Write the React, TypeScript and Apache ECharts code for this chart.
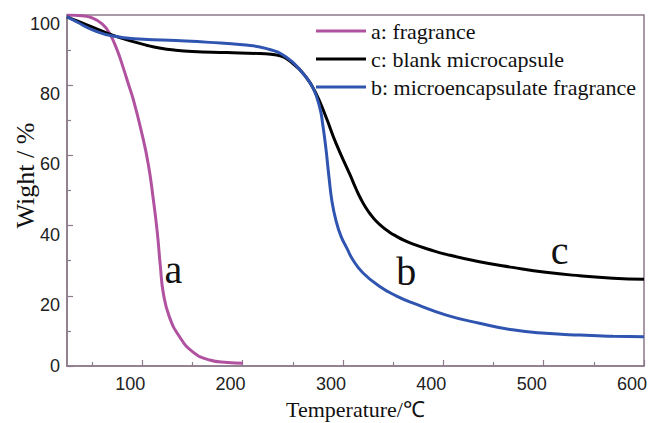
import React, { useEffect, useRef } from "react";
import * as echarts from "echarts";

// Curve a: fragrance
const aTemp = [25, 40, 50, 60, 67, 75, 81, 86, 91, 99, 106, 111, 115, 118, 121, 127, 137, 150, 167, 185, 200];
const aWeight = [100, 99.8, 99.2, 97.5, 95, 90, 85, 80.5, 76, 67, 57.5, 47.5, 38, 28.5, 20.7, 14, 8.4, 4.1, 1.7, 1.0, 0.8];

// Curve c: blank microcapsule
const cTemp = [25, 35, 51, 71, 91, 104, 117, 132, 150, 184, 217, 234, 250, 263, 273, 283, 293, 307, 313, 318, 323, 328, 333, 339, 346, 353, 361, 370, 386, 403, 436, 469, 502, 536, 569, 600];
const cWeight = [99.5, 98.3, 96.5, 94.2, 92.4, 91.4, 90.6, 90.0, 89.6, 89.3, 89.0, 88.6, 86.2, 82.4, 77.7, 71.0, 63.5, 54.5, 50.5, 47.5, 45.0, 43.0, 41.3, 39.7, 38.2, 37.0, 35.8, 34.7, 33.2, 31.8, 29.7, 28.1, 26.7, 25.7, 25.0, 24.7];

// Curve b: microencapsulate fragrance
const bTemp = [25, 35, 51, 71, 101, 134, 167, 200, 223, 243, 260, 270, 277, 280, 283, 286, 289, 293, 298, 304, 310, 320, 337, 353, 370, 403, 436, 469, 502, 536, 569, 600];
const bWeight = [99.5, 98, 95.7, 94.0, 93.1, 92.7, 92.2, 91.5, 90.5, 88.1, 83.4, 79.3, 73.5, 68.5, 62, 54, 47, 41.5, 37, 33.5, 30.2, 26.5, 22.6, 20, 17.9, 14.5, 12.2, 10.3, 9.3, 8.8, 8.5, 8.3];

const xMajorTicks = [100, 200, 300, 400, 500, 600];
const xMinorTicks = [50, 150, 250, 350, 450, 550];
const yUpperLabels = [20, 40, 60, 80, 100];
const yZeroLabel = [0];

const seriesNames = ["a: fragrance", "c: blank microcapsule", "b: microencapsulate fragrance"];
const curveLabels = [
  { text: "a", coord: [131, 27.5] },
  { text: "b", coord: [363, 26.9] },
  { text: "c", coord: [516, 33] },
];

const SERIF = "Liberation Serif";
const SANS = "Liberation Sans";
const AXIS_COLOR = "#8c7b8a";

const zip = (xs: number[], ys: number[]) => xs.map((x, i) => [x, ys[i]]);

export default function App() {
  const ref = useRef<HTMLDivElement>(null);
  useEffect(() => {
    if (!ref.current) return;
    const chart = echarts.init(ref.current, undefined, { renderer: "svg" });
    const labelFor = (name: string) => curveLabels.find((l) => name.startsWith(l.text + ":"))!;
    const colors: Record<string, string> = {
      "a: fragrance": "#b0529f",
      "c: blank microcapsule": "#000000",
      "b: microencapsulate fragrance": "#2f55b0",
    };
    const dataFor: Record<string, number[][]> = {
      "a: fragrance": zip(aTemp, aWeight),
      "c: blank microcapsule": zip(cTemp, cWeight),
      "b: microencapsulate fragrance": zip(bTemp, bWeight),
    };
    const xMin = 25;
    const xMax = 600;
    const labelShift = 12; // labels sit slightly left of their ticks
    const labelStyle = { fontFamily: SANS, fontSize: 18, color: "#222" };
    chart.setOption({
      animation: false,
      backgroundColor: "#ffffff",
      grid: {
        left: 67,
        top: 15,
        right: 5,
        bottom: 57,
        containLabel: false,
        outerBoundsMode: "none",
        show: true,
        borderColor: AXIS_COLOR,
        borderWidth: 1.5,
        backgroundColor: "transparent",
      },
      legend: {
        orient: "vertical",
        left: 311,
        top: 15,
        itemWidth: 50,
        itemHeight: 3,
        itemGap: 6,
        icon: "rect",
        data: seriesNames,
        textStyle: { fontFamily: SERIF, fontSize: 22, color: "#111" },
      },
      xAxis: [
        {
          type: "value",
          min: xMin,
          max: xMax,
          name: "Temperature/℃",
          nameLocation: "middle",
          nameGap: 32,
          nameMoveOverlap: false,
          nameTextStyle: { fontFamily: SERIF, fontSize: 22, color: "#111" },
          axisLine: { show: true, lineStyle: { color: AXIS_COLOR, width: 1.5 } },
          axisTick: { show: true, inside: true, length: 6, customValues: xMajorTicks, lineStyle: { color: AXIS_COLOR, width: 1.2 } },
          axisLabel: { show: false },
          splitLine: { show: false },
        },
        {
          type: "value",
          min: xMin,
          max: xMax,
          position: "bottom",
          axisLine: { show: false },
          axisTick: { show: true, inside: true, length: 4, customValues: xMinorTicks, lineStyle: { color: AXIS_COLOR, width: 1.2 } },
          axisLabel: { show: false },
          splitLine: { show: false },
        },
        {
          type: "value",
          min: xMin + labelShift / 1.004,
          max: xMax + labelShift / 1.004,
          position: "bottom",
          axisLine: { show: false },
          axisTick: { show: false },
          axisLabel: { customValues: xMajorTicks, margin: 9, ...labelStyle },
          splitLine: { show: false },
        },
      ],
      yAxis: [
        {
          type: "value",
          min: 0,
          max: 100,
          interval: 20,
          position: "left",
          name: "Wight / %",
          nameLocation: "middle",
          nameGap: 29,
          nameMoveOverlap: false,
          nameTextStyle: { fontFamily: SERIF, fontSize: 26, color: "#111", padding: [0, 0, 0, 30] },
          axisLine: { show: true, lineStyle: { color: AXIS_COLOR, width: 1.5 } },
          axisTick: { show: true, inside: true, length: 6, lineStyle: { color: AXIS_COLOR, width: 1.2 } },
          minorTick: { show: true, splitNumber: 2, length: 4, lineStyle: { color: AXIS_COLOR, width: 1.2 } },
          axisLabel: { customValues: yUpperLabels, margin: 7, verticalAlign: "top", ...labelStyle },
          splitLine: { show: false },
        },
        {
          type: "value",
          min: 0,
          max: 100,
          position: "left",
          offset: 0,
          axisLine: { show: false },
          axisTick: { show: false },
          axisLabel: { customValues: yZeroLabel, margin: 7, verticalAlign: "middle", ...labelStyle },
          splitLine: { show: false },
        },
      ],
      series: seriesNames.map((name) => {
        const lab = labelFor(name);
        return {
          name,
          type: "line",
          xAxisIndex: 0,
          yAxisIndex: 0,
          smooth: 0.5,
          showSymbol: false,
          symbol: "none",
          data: dataFor[name],
          color: colors[name],
          lineStyle: { color: colors[name], width: 3 },
          markPoint: {
            symbol: "circle",
            symbolSize: 1,
            itemStyle: { color: "transparent" },
            label: {
              show: true,
              position: "inside",
              formatter: lab.text,
              fontFamily: SERIF,
              fontSize: 40,
              color: "#111",
            },
            data: [{ coord: lab.coord, value: lab.text }],
          },
        };
      }),
    });
    return () => chart.dispose();
  }, []);
  return <div ref={ref} style={{ position: "fixed", left: 0, top: 0, width: 649, height: 423 }} />;
}
